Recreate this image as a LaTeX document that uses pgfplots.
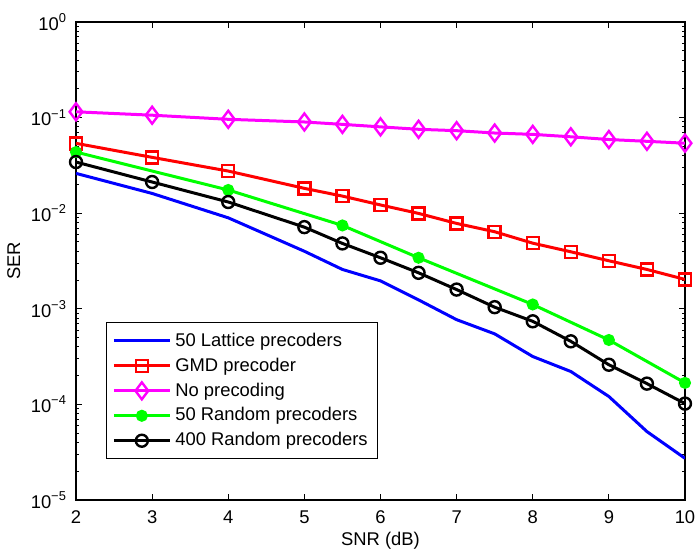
\documentclass[border=0pt]{standalone}
\usepackage{fontspec}
\setmainfont{Liberation Sans}
\usepackage{pgfplots}
\pgfplotsset{compat=1.18}
\definecolor{mblue}{RGB}{0,0,255}
\definecolor{mred}{RGB}{255,0,0}
\definecolor{mmag}{RGB}{255,0,255}
\definecolor{mgreen}{RGB}{0,255,0}
\newcommand{\ff}{\fontsize{9.2}{11}\selectfont}
\newcommand{\tp}[1]{10\textsuperscript{#1}}
\begin{document}
\begin{tikzpicture}
\begin{axis}[
  at={(0,0)}, anchor=south west,
  scale only axis, width=304.5pt, height=239pt,
  xmin=2, xmax=10, ymin=1e-5, ymax=1,
  ymode=log,
  xtick={2,3,4,5,6,7,8,9,10},
  ytick={1e-5,1e-4,1e-3,1e-2,1e-1,1},
  yticklabels={\tp{−5},\tp{−4},\tp{−3},\tp{−2},\tp{−1},\tp{0}},
  /pgf/number format/assume math mode=true,
  tick align=inside,
  axis line style={line width=0.75pt},
  major tick length=3pt, minor tick length=1.6pt,
  every tick/.style={black, line width=0.5pt},
  tick label style={font=\ff},
  xticklabel style={yshift=-2pt},
  yticklabel style={xshift=-1pt},
  label style={font=\ff},
  xlabel={SNR (dB)},
  ylabel={SER},
  xlabel style={at={(axis description cs:0.5,-0.0858)}, anchor=center},
  ylabel style={at={(axis description cs:-0.102,0.5)}, anchor=center},
  legend cell align=left,
  legend style={at={(rel axis cs:0.049,0.085)}, anchor=south west, draw=black, line width=0.5pt, font=\ff, row sep=0.3pt, inner sep=3pt},
  legend image code/.code={\draw[mark repeat=2, mark phase=2] plot coordinates {(0pt,0pt) (14pt,0pt) (28pt,0pt)};},
]
\addplot[mblue, line width=1.5pt, mark=none] coordinates {
(2,0.0261) (3,0.0161) (4,0.00895) (5,0.0040) (5.5,0.00258) (6,0.00196) (6.5,0.00124) (7,0.00077) (7.5,0.000547) (8,0.000317) (8.5,0.000221) (9,0.000121) (9.5,5.2e-5) (10,2.73e-5)};
\addlegendentry{50 Lattice precoders}
\addplot[mred, line width=1.5pt, mark=square, mark size=3pt, mark options={solid, line width=1.2pt}] coordinates {
(2,0.0538) (3,0.0384) (4,0.0276) (5,0.0182) (5.5,0.0151) (6,0.0122) (6.5,0.00995) (7,0.00782) (7.5,0.0064) (8,0.00486) (8.5,0.00395) (9,0.00318) (9.5,0.00258) (10,0.00203)};
\addlegendentry{GMD precoder}
\addplot[mmag, line width=1.5pt, mark=diamond, mark size=4.25pt, mark options={solid, line width=1.2pt}] coordinates {
(2,0.115) (3,0.106) (4,0.096) (5,0.090) (5.5,0.085) (6,0.080) (6.5,0.0755) (7,0.073) (7.5,0.069) (8,0.0668) (8.5,0.063) (9,0.059) (9.5,0.0565) (10,0.054)};
\addlegendentry{No precoding}
\addplot[mgreen, line width=1.5pt, mark=*, mark size=2.25pt, mark options={solid, fill=mgreen}] coordinates {
(2,0.0436) (4,0.0175) (5.5,0.00745) (6.5,0.00342) (8,0.00111) (9,0.000472) (10,0.000168)};
\addlegendentry{50 Random precoders}
\addplot[black, line width=1.5pt, mark=o, mark size=3pt, mark options={solid, line width=1.2pt}] coordinates {
(2,0.0343) (3,0.0212) (4,0.0131) (5,0.00715) (5.5,0.00483) (6,0.00342) (6.5,0.00238) (7,0.00159) (7.5,0.00104) (8,0.00074) (8.5,0.000457) (9,0.00026) (9.5,0.000165) (10,0.000102)};
\addlegendentry{400 Random precoders}
\end{axis}
\pgfresetboundingbox
\path[use as bounding box] (-38pt,-27pt) rectangle (310pt,250pt);
\end{tikzpicture}
\end{document}
